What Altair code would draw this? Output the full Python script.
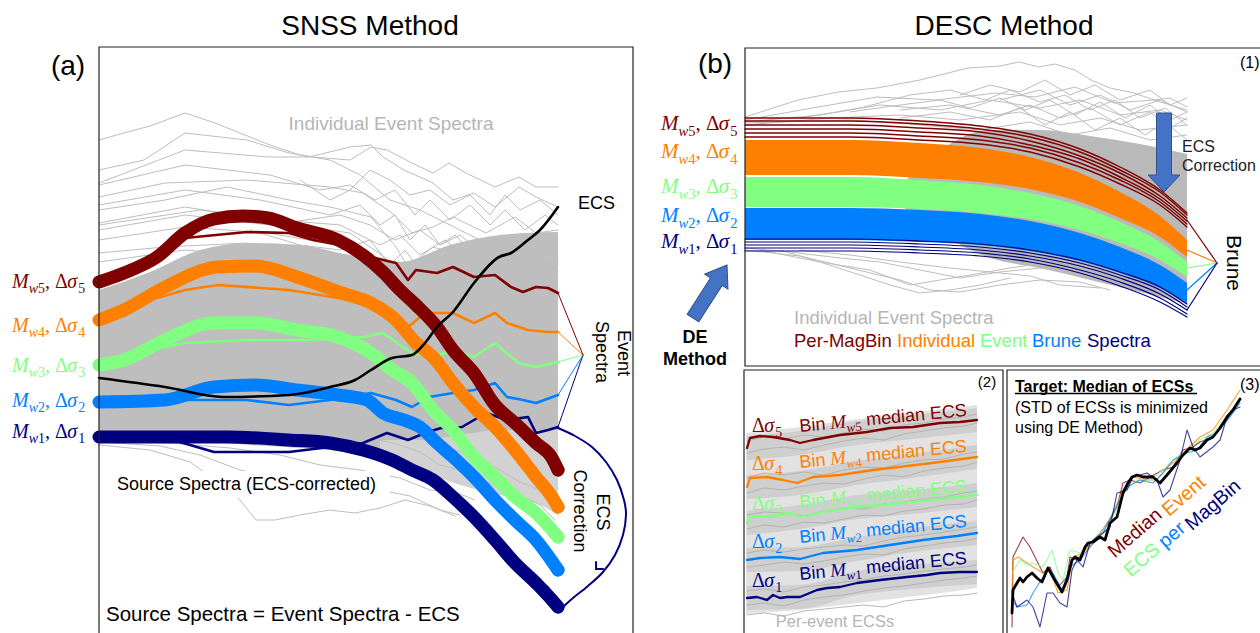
import math
import altair as alt
import pandas as pd

# ---------------------------------------------------------------------------
# Colours (magnitude bins 1..5) and fonts
# ---------------------------------------------------------------------------
NAVY, BLUE, GREEN, ORANGE, MAROON = "#000080", "#0080ff", "#80ff80", "#ff8000", "#800000"
BIN_COLOR = {1: NAVY, 2: BLUE, 3: GREEN, 4: ORANGE, 5: MAROON}
GRAY = "#bdbdbd"
SANS, SERIF = "Liberation Sans", "Liberation Serif"

# Each panel has its own data domain, mapped onto its place on the page.
PANELS = {
    "a": dict(xd=[0, 534], xr=[99, 633], yd=[0, 586], yr=[633, 47]),
    "b": dict(xd=[0, 515], xr=[745, 1260], yd=[0, 318], yr=[366, 48]),
    "c": dict(xd=[0, 259], xr=[744, 1003], yd=[0, 263], yr=[633, 370]),
    "d": dict(xd=[0, 253], xr=[1007, 1260], yd=[0, 263], yr=[633, 370]),
}

# ---------------------------------------------------------------------------
# (a) SNSS: event spectra, ECS and ECS-corrected source spectra
# ---------------------------------------------------------------------------
A_SOURCE = {
    5: ([0, 25, 58, 86, 115, 144, 169, 198, 239, 264, 284, 301, 317, 338, 354, 375, 396, 416, 437, 453, 459],
        [351, 360, 376, 400, 414, 417, 415, 405, 393, 378, 361, 343, 328, 306, 283, 260, 228, 210, 190, 175, 163]),
    4: ([0, 25, 66, 119, 157, 198, 243, 272, 297, 317, 334, 354, 375, 396, 416, 437, 453, 459],
        [313, 323, 346, 366, 367, 356, 340, 330, 313, 290, 276, 250, 226, 206, 183, 156, 136, 126]),
    3: ([0, 25, 66, 115, 157, 198, 239, 272, 293, 313, 334, 354, 375, 396, 416, 437, 459],
        [268, 273, 293, 310, 310, 303, 296, 280, 263, 250, 223, 203, 176, 156, 136, 120, 96]),
    2: ([0, 66, 115, 157, 198, 239, 268, 284, 305, 321, 338, 354, 375, 396, 416, 437, 459],
        [231, 233, 246, 248, 243, 238, 233, 220, 213, 206, 190, 176, 156, 133, 113, 93, 63]),
    1: ([0, 66, 128, 190, 231, 264, 293, 313, 334, 354, 375, 396, 416, 437, 453, 459],
        [196, 196, 196, 193, 190, 183, 173, 163, 153, 136, 116, 93, 70, 50, 33, 26]),
}
A_EVENT = {
    5: ([0, 51, 86, 148, 190, 214, 251, 272, 297, 309, 317, 338, 354, 375, 396, 412, 424, 437, 449, 459],
        [351, 371, 395, 401, 400, 393, 386, 376, 370, 353, 363, 360, 366, 356, 358, 346, 341, 346, 345, 340]),
    4: ([0, 51, 86, 119, 190, 251, 272, 293, 309, 326, 354, 375, 396, 408, 429, 449, 459],
        [313, 333, 343, 348, 343, 333, 333, 320, 306, 320, 320, 310, 320, 310, 303, 301, 301]),
    3: ([0, 51, 86, 148, 210, 264, 284, 313, 334, 354, 375, 396, 412, 420, 437, 459],
        [268, 283, 290, 293, 293, 296, 300, 280, 276, 283, 276, 290, 276, 270, 266, 271]),
    2: ([0, 86, 148, 190, 231, 272, 297, 313, 330, 354, 375, 396, 408, 424, 437, 459],
        [231, 233, 233, 228, 233, 240, 233, 226, 236, 240, 243, 250, 236, 233, 230, 238]),
    1: ([0, 74, 115, 190, 231, 264, 288, 309, 326, 342, 363, 387, 408, 429, 437, 449, 459],
        [196, 193, 181, 181, 186, 190, 200, 193, 200, 205, 206, 220, 213, 216, 200, 203, 206]),
}
A_ECS = ([0, 66, 124, 190, 231, 256, 272, 293, 313, 326, 338, 354, 375, 400, 412, 429, 441, 459],
         [255, 246, 236, 238, 246, 253, 263, 275, 278, 290, 306, 321, 350, 376, 380, 393, 403, 426])
A_GRAY = [
    ([0, 25, 51, 86, 116, 146, 171, 201, 231, 261, 291, 321, 351, 381, 411, 441, 459],
     [493, 500, 507, 520, 510, 498, 488, 478, 473, 458, 433, 423, 408, 393, 378, 353, 343]),
    ([0, 45, 86, 148, 190, 214, 251, 272, 288, 313, 334, 350, 367, 396, 420, 437, 459],
     [463, 473, 500, 493, 480, 476, 473, 486, 483, 470, 460, 470, 460, 446, 456, 446, 446]),
    ([0, 86, 169, 210, 251, 272, 284, 305, 334, 354, 375, 396, 420, 437, 459],
     [450, 483, 476, 476, 486, 488, 476, 463, 450, 433, 440, 426, 446, 436, 426]),
    ([0, 66, 148, 231, 264, 293, 313, 334, 354, 387, 416, 437, 459],
     [436, 450, 453, 446, 440, 420, 400, 406, 416, 400, 416, 400, 403]),
    ([0, 66, 128, 190, 231, 272, 297, 309, 334, 354, 396, 416, 437, 459],
     [423, 433, 446, 433, 426, 416, 386, 366, 386, 380, 393, 383, 393, 386]),
    ([0, 86, 148, 210, 251, 280, 305, 334, 375, 416, 459],
     [410, 426, 416, 406, 400, 380, 360, 370, 370, 373, 370]),
    ([0, 86, 169, 251, 293, 313, 354, 396, 437, 459],
     [393, 406, 400, 386, 366, 350, 356, 350, 356, 350]),
    ([0, 66, 148, 231, 272, 313, 354, 396, 437, 459],
     [380, 386, 390, 380, 366, 340, 343, 333, 343, 338]),
    ([0, 86, 201, 281, 321, 341, 361, 381, 401, 421, 441, 459],
     [371, 383, 373, 353, 333, 343, 333, 348, 338, 363, 353, 368]),
    ([0, 86, 171, 241, 271, 296, 321, 341, 361, 391, 421, 459],
     [403, 418, 408, 418, 408, 393, 403, 388, 398, 373, 393, 383]),
    ([0, 86, 161, 231, 261, 281, 296, 311, 326, 341, 356, 371, 386, 401, 416, 431, 446, 459],
     [428, 443, 433, 418, 428, 408, 418, 393, 408, 388, 398, 383, 395, 378, 393, 375, 388, 378]),
    ([0, 86, 171, 221, 251, 276, 296, 316, 331, 351, 371, 391, 406, 426, 446, 459],
     [448, 468, 458, 443, 448, 433, 443, 418, 433, 413, 428, 408, 423, 403, 418, 408]),
    ([201, 231, 251, 271, 291, 311, 331, 351, 371, 391, 406, 421, 441, 459],
     [453, 433, 443, 463, 453, 438, 443, 428, 438, 418, 438, 423, 433, 418]),
    ([151, 201, 241, 271, 291, 306, 321, 341, 361, 381, 401, 421, 441, 459],
     [403, 388, 383, 393, 368, 383, 363, 378, 358, 375, 361, 378, 365, 373]),
    ([0, 101, 181, 241, 281, 301, 321, 346, 371, 396, 421, 446, 459],
     [408, 423, 413, 408, 388, 398, 378, 393, 373, 388, 368, 385, 375]),
    # source-side (ECS-corrected) grey spectra
    ([0, 51, 91, 116, 141, 157, 176, 201, 231, 256, 281, 306, 331, 356],
     [188, 183, 171, 153, 133, 113, 113, 118, 123, 120, 125, 133, 127, 117]),
    ([0, 61, 101, 141, 181, 221, 251, 281, 311, 341, 361],
     [191, 187, 178, 163, 155, 148, 141, 143, 137, 123, 118]),
    ([0, 71, 131, 181, 221, 261, 301, 331, 356, 376],
     [193, 190, 185, 178, 168, 163, 155, 143, 141, 133]),
    ([281, 301, 321, 341, 361, 381, 401, 421, 441, 456],
     [193, 188, 181, 168, 163, 155, 145, 138, 128, 113]),
    ([301, 331, 356, 381, 401, 421, 441, 456],
     [203, 193, 183, 173, 163, 151, 143, 133]),
]
A_DENSE_X = [0, 51, 101, 151, 201, 251, 301, 351, 401, 459]
A_DENSE_TOP = [343, 361, 383, 390, 388, 378, 371, 388, 398, 401]
A_DENSE_BOT = [193, 193, 192, 188, 185, 181, 173, 168, 163, 163]
A_LOW_X = [281, 321, 361, 401, 441, 459]
A_LOW_TOP = [193, 193, 198, 203, 203, 203]
A_LOW_BOT = [178, 163, 148, 138, 128, 118]
A_APEX = (484, 278)
A_ARC = ([459, 476, 493, 507, 518, 525, 527, 524, 516, 504, 489, 474, 463],
         [205, 197, 186, 171, 153, 133, 118, 98, 78, 61, 47, 35, 25])
A_LABEL_Y = {5: 345, 4: 301, 3: 261, 2: 226, 1: 195}

# ---------------------------------------------------------------------------
# (b) DESC panel (1): Brune spectra per bin over the event spectra
# ---------------------------------------------------------------------------
B_X = [0, 105, 175, 235, 285, 335, 375, 415, 442]
B_MAROON = [
    [248, 248, 245, 240, 232, 217, 199, 176, 153],
    [245, 245, 242, 237, 229, 214, 196, 174, 151],
    [241, 241, 238, 234, 225, 210, 193, 170, 148],
    [237, 237, 234, 230, 221, 207, 189, 167, 145],
    [233, 233, 230, 226, 218, 203, 186, 164, 142],
    [229, 229, 226, 222, 214, 199, 182, 161, 139],
]
B_ORANGE = ([226, 226, 223, 218, 209, 193, 174, 150, 126], [191, 191, 188, 184, 177, 164, 148, 129, 109])
B_GREEN = ([189, 189, 186, 181, 173, 160, 144, 124, 104], [159, 159, 157, 153, 147, 136, 123, 106, 89])
B_BLUE = ([158, 158, 156, 152, 145, 133, 119, 101, 83], [126, 126, 124, 121, 115, 105, 93, 78, 63])
B_NAVY = [
    [127, 127, 125, 122, 116, 106, 94, 79, 62],
    [124, 124, 122, 119, 113, 103, 91, 76, 59],
    [121, 121, 119, 116, 110, 100, 88, 72, 56],
    [118, 118, 116, 113, 107, 96, 84, 68, 52],
    [115, 115, 113, 110, 104, 93, 80, 64, 49],
]
B_GRAY = [
    ([0, 53, 93, 132, 175, 223, 255, 274, 294, 310, 330, 346, 365, 389, 409, 425, 442],
     [249, 266, 274, 278, 286, 298, 300, 304, 299, 302, 296, 286, 278, 273, 266, 268, 259]),
    ([0, 73, 132, 191, 251, 290, 330, 369, 409, 442],
     [246, 259, 269, 266, 273, 269, 279, 263, 266, 256]),
    ([0, 75, 135, 195, 245, 295, 335, 375, 415, 442],
     [244, 251, 261, 256, 266, 258, 266, 251, 256, 246]),
    ([0, 85, 155, 215, 275, 315, 355, 395, 442],
     [241, 248, 251, 246, 254, 241, 248, 236, 241]),
    ([0, 105, 175, 235, 285, 325, 365, 405, 442],
     [243, 246, 241, 236, 244, 231, 238, 226, 231]),
    ([155, 205, 255, 285, 315, 345, 375, 405, 425, 442],
     [256, 261, 251, 261, 248, 258, 241, 254, 238, 248]),
    ([255, 295, 325, 355, 385, 415, 442],
     [266, 276, 261, 271, 256, 266, 254]),
    ([105, 155, 195, 225, 255, 280, 305, 330, 355, 380, 405, 425, 442],
     [254, 261, 266, 258, 268, 256, 266, 251, 264, 248, 261, 246, 254]),
    ([155, 205, 245, 275, 300, 325, 350, 375, 400, 420, 442],
     [248, 254, 246, 258, 241, 254, 236, 248, 231, 244, 226]),
    ([215, 245, 275, 300, 325, 350, 375, 405, 425, 442],
     [271, 281, 274, 286, 271, 281, 266, 276, 261, 268]),
    ([55, 115, 165, 205, 240, 265, 295, 320, 345, 370, 395, 420, 442],
     [248, 258, 271, 276, 266, 276, 264, 271, 256, 266, 248, 258, 241]),
    # below the Mw1 bundle
    ([0, 55, 105, 155, 185, 215, 255, 295, 335, 365],
     [116, 110, 98, 86, 76, 74, 81, 86, 84, 76]),
    ([0, 45, 95, 135, 175, 215, 255, 295, 335, 375],
     [118, 114, 108, 104, 96, 88, 94, 98, 94, 86]),
    ([35, 75, 115, 145, 175, 205, 235, 265],
     [116, 104, 91, 81, 73, 76, 81, 88]),
    ([55, 105, 155, 205, 245, 285, 315, 355],
     [116, 111, 104, 98, 94, 90, 81, 78]),
    ([15, 75, 125, 165, 195, 225, 265, 305],
     [116, 104, 96, 81, 86, 91, 98, 104]),
]
B_DENSE_X = [150, 245, 295, 345, 395, 442]
B_DENSE_TOP = [175, 236, 236, 230, 222, 212]
B_DENSE_BOT = [165, 108, 98, 86, 74, 62]
B_ENDS = {5: 146, 4: 116, 3: 98, 2: 76, 1: 56}
B_APEX = (472, 103)
B_LABEL_Y = {5: 236, 4: 208, 3: 173, 2: 144, 1: 118}

# ---------------------------------------------------------------------------
# (b) panel (2): per-event ECSs and per-bin median ECS
# ---------------------------------------------------------------------------
C_MEDIAN = {
    5: ([3, 6, 16, 29, 46, 56, 69, 96, 123, 146, 169, 196, 216, 233],
        [185, 195, 197, 196, 193, 190, 193, 198, 201, 205, 206, 210, 211, 213]),
    4: ([3, 6, 23, 39, 53, 69, 96, 129, 163, 196, 233],
        [146, 155, 156, 153, 150, 156, 158, 163, 167, 171, 176]),
    3: ([3, 6, 29, 46, 56, 79, 106, 136, 169, 203, 233],
        [110, 116, 117, 120, 116, 121, 125, 128, 131, 135, 138]),
    2: ([3, 16, 36, 56, 79, 113, 146, 179, 213, 233],
        [73, 75, 76, 74, 80, 83, 88, 93, 97, 100]),
    1: ([3, 13, 23, 29, 36, 43, 56, 73, 83, 96, 113, 136, 163, 183, 196, 216, 233],
        [35, 36, 33, 38, 35, 36, 36, 43, 45, 46, 50, 53, 56, 58, 60, 61, 61]),
}
C_GX = [3, 20, 40, 60, 80, 100, 120, 140, 160, 180, 200, 220, 233]
C_GRAY = [
    [180, 184, 186, 183, 188, 192, 195, 193, 199, 202, 205, 207, 210],
    [192, 196, 194, 198, 196, 200, 204, 202, 208, 210, 214, 216, 219],
    [140, 145, 143, 147, 150, 149, 154, 158, 156, 162, 165, 167, 171],
    [155, 160, 158, 161, 158, 163, 166, 165, 170, 173, 174, 179, 181],
    [104, 108, 106, 111, 110, 114, 118, 117, 122, 124, 128, 129, 133],
    [118, 121, 120, 117, 122, 125, 124, 129, 131, 134, 136, 140, 142],
    [66, 68, 71, 69, 72, 76, 79, 78, 84, 87, 90, 92, 95],
    [80, 83, 81, 84, 86, 88, 87, 92, 96, 98, 101, 104, 106],
    [28, 30, 27, 33, 36, 38, 42, 45, 47, 50, 53, 55, 57],
    [42, 44, 41, 46, 48, 51, 53, 57, 59, 62, 64, 66, 68],
    [18, 20, 17, 22, 24, 26, 28, 26, 32, 34, 37, 38, 40],
]
C_BASE_X = [2, 56, 106, 156, 206, 233]
C_BASE_TOP = [200, 206, 213, 219, 225, 228]
C_BASE_BOT = [19, 23, 29, 35, 41, 45]
C_BAND_X = [3, 56, 113, 169, 233]
C_BANDS = {
    5: ([197, 202, 212, 218, 225], [173, 178, 188, 194, 201]),
    4: ([158, 162, 172, 179, 188], [134, 138, 148, 155, 164]),
    3: ([122, 128, 138, 143, 150], [98, 104, 114, 119, 126]),
    2: ([85, 86, 96, 105, 112], [61, 62, 72, 81, 88]),
    1: ([47, 48, 62, 68, 73], [23, 24, 38, 44, 49]),
}
C_DS_Y = {5: 201, 4: 163, 3: 123, 2: 85, 1: 46}
C_BIN_Y = {5: 201, 4: 165, 3: 125, 2: 90, 1: 53}

# ---------------------------------------------------------------------------
# (b) panel (3): median ECS per magnitude bin and their median
# ---------------------------------------------------------------------------
D_BIN = {
    5: ([5, 6, 11, 16, 23, 26, 36, 43, 51, 60, 63, 70, 80, 93, 103, 110, 116, 123, 133, 143, 156, 166, 176, 186, 193, 206, 220, 226, 230],
        [6, 76, 86, 96, 86, 80, 60, 66, 46, 56, 76, 73, 86, 100, 113, 126, 150, 153, 150, 156, 163, 166, 183, 186, 191, 196, 213, 223, 230]),
    4: ([5, 6, 11, 20, 26, 36, 43, 51, 60, 66, 76, 86, 96, 106, 116, 126, 140, 150, 160, 170, 176, 193, 206, 220, 233],
        [40, 73, 76, 70, 66, 60, 63, 40, 43, 76, 80, 90, 103, 120, 143, 156, 153, 153, 166, 173, 180, 196, 203, 223, 243]),
    3: ([5, 13, 20, 26, 36, 45, 51, 56, 63, 73, 83, 93, 106, 116, 130, 143, 156, 170, 180, 193, 206, 220, 233],
        [60, 73, 68, 70, 66, 83, 60, 53, 83, 80, 90, 100, 116, 140, 153, 153, 163, 176, 183, 193, 200, 216, 233]),
    2: ([5, 10, 20, 26, 36, 41, 46, 55, 63, 73, 83, 96, 106, 120, 133, 146, 156, 166, 180, 190, 200, 210, 223, 233],
        [33, 26, 28, 40, 56, 66, 60, 43, 66, 73, 86, 100, 120, 146, 153, 150, 160, 173, 180, 183, 196, 200, 216, 230]),
    1: ([5, 10, 20, 26, 33, 40, 46, 53, 60, 65, 70, 76, 83, 90, 96, 103, 110, 120, 126, 140, 150, 156, 163, 173, 180, 186, 193, 206, 213, 220, 226, 233],
        [40, 26, 33, 26, 6, 40, 40, 30, 26, 63, 73, 66, 90, 96, 100, 106, 140, 143, 156, 160, 153, 136, 143, 173, 203, 186, 176, 186, 193, 216, 223, 226]),
}
D_MEDIAN = ([5, 6, 10, 13, 16, 20, 25, 30, 35, 41, 46, 55, 60, 65, 68, 73, 78, 81, 86, 93, 98, 103, 110, 116, 121, 125, 130, 136, 146, 153, 160, 170, 176, 183, 188, 193, 200, 206, 213, 220, 226, 233],
            [20, 43, 50, 55, 51, 56, 60, 55, 51, 65, 56, 41, 53, 73, 76, 73, 86, 90, 91, 96, 93, 110, 116, 140, 150, 156, 158, 156, 156, 150, 158, 170, 178, 185, 183, 185, 193, 196, 205, 216, 223, 234])

# ---------------------------------------------------------------------------
# helpers
# ---------------------------------------------------------------------------
def enc(panel, x="x", y="y", x2=None, y2=None):
    p = PANELS[panel]
    e = {
        "x": alt.X(f"{x}:Q", scale=alt.Scale(domain=p["xd"], range=p["xr"], nice=False, zero=False), axis=None),
        "y": alt.Y(f"{y}:Q", scale=alt.Scale(domain=p["yd"], range=p["yr"], nice=False, zero=False), axis=None),
    }
    if x2:
        e["x2"] = alt.X2(f"{x2}:Q")
    if y2:
        e["y2"] = alt.Y2(f"{y2}:Q")
    return e


def lines(panel, series, color, width, opacity=1.0, interp="linear", cap="round"):
    recs = []
    for sid, (xs, ys) in enumerate(series):
        for i, (x, y) in enumerate(zip(xs, ys)):
            recs.append({"id": sid, "i": i, "x": x, "y": y})
    return alt.Chart(pd.DataFrame(recs)).mark_line(
        color=color, strokeWidth=width, opacity=opacity, interpolate=interp,
        strokeCap=cap, strokeJoin="round",
    ).encode(detail="id:N", order="i:Q", **enc(panel))


def band(panel, xs, hi, lo, color, opacity=1.0, interp="monotone"):
    df = pd.DataFrame({"x": xs, "hi": hi, "lo": lo})
    return alt.Chart(df).mark_area(color=color, opacity=opacity, interpolate=interp).encode(
        **enc(panel, y="hi", y2="lo"))


def frame(panel, x0, x1, y0, y1):
    df = pd.DataFrame({"x": [x0], "x2": [x1], "y": [y1], "y2": [y0]})
    return alt.Chart(df).mark_rect(fillOpacity=0, stroke="#222222", strokeWidth=1.2).encode(
        **enc(panel, x2="x2", y2="y2"))


def white_box(panel, x0, x1, y0, y1):
    df = pd.DataFrame({"x": [x0], "x2": [x1], "y": [y1], "y2": [y0]})
    return alt.Chart(df).mark_rect(color="white").encode(**enc(panel, x2="x2", y2="y2"))


def symbol(panel, xs, ys, shape, size, angle=0, fill="none", stroke="#000", sw=1.0, filled=False):
    df = pd.DataFrame({"x": xs, "y": ys})
    props = dict(shape=shape, size=size, angle=angle, filled=filled, stroke=stroke,
                 strokeWidth=sw, opacity=1)
    if filled:
        props["fill"] = fill
    return alt.Chart(df).mark_point(**props).encode(**enc(panel))


ARROW_ECS = "M -0.19 1 L 0.19 1 L 0.19 -0.57 L 0.405 -0.57 L 0 -1 L -0.405 -0.57 L -0.19 -0.57 Z"
ARROW_DE = "M -0.22 1 L 0.22 1 L 0.22 -0.37 L 0.44 -0.37 L 0 -1 L -0.44 -0.37 L -0.22 -0.37 Z"
CHEVRON = "M -1 -0.5 L 0 0.5 L 1 -0.5"

# text pieces ---------------------------------------------------------------
rows = []


def T(panel, x, y, t, c="#000000", s=16, a=0, font=SANS, style="normal", weight="normal",
      align="center", baseline="middle"):
    rows.append(dict(panel=panel, x=x, y=y, t=t, c=c, s=s, a=a, font=font, style=style,
                     weight=weight, align=align, baseline=baseline))


EM_SERIF = {"M": 0.833, "w": 0.667, "Δ": 0.612, "σ": 0.55, ",": 0.25, " ": 0.25}
EM_SANS = {"B": 0.667, "i": 0.222, "n": 0.556, " ": 0.278, "m": 0.833, "e": 0.556, "d": 0.556,
           "a": 0.556, "E": 0.667, "C": 0.722, "S": 0.667}


def advance(text, size, kind):
    table = EM_SANS if kind == "sans" else EM_SERIF
    return sum(table.get(ch, 0.5 if ch.isdigit() else 0.55) for ch in text) * size


def run(panel, x, y, parts, color, rot=0.0):
    """Lay out a run of mixed-size pieces (subscripts) along a baseline."""
    ang = math.radians(rot)
    ca, sa = math.cos(ang), math.sin(ang)
    d = 0.0
    for text, kind, size, drop in parts:
        body = text.strip()
        lead = len(text) - len(text.lstrip())
        trail = len(text) - len(text.rstrip())
        d += advance(" " * lead, size, kind)
        px = x + d * ca + drop * sa
        py = y + d * sa - drop * ca
        T(panel, px, py, body, color, size, (360 - rot) % 360,
          SANS if kind == "sans" else SERIF, "italic" if kind == "it" else "normal",
          align="left", baseline="alphabetic")
        d += advance(body, size, kind) + advance(" " * trail, size, kind)


def mw_parts(k, big, small):
    drop = 0.27 * big
    return [("M", "it", big, 0), ("w", "it", small, drop), (str(k), "up", small, drop),
            (", ", "up", big, 0), ("Δ", "up", big, 0), ("σ", "it", big, 0), (str(k), "up", small, drop)]


# ---------------------------------------------------------------------------
# build layers
# ---------------------------------------------------------------------------
layers = []

# ---- (a) ----
layers.append(band("a", A_DENSE_X, A_DENSE_TOP, A_DENSE_BOT, "#bebebe"))
layers.append(band("a", A_LOW_X, A_LOW_TOP, A_LOW_BOT, "#d2d2d2"))
layers.append(lines("a", A_GRAY, GRAY, 1.0))
layers.append(white_box("a", 13, 291, 135, 162))
for k in [1, 2, 3, 4, 5]:
    layers.append(lines("a", [A_EVENT[k]], BIN_COLOR[k], 2.6))
    ex, ey = A_EVENT[k][0][-1], A_EVENT[k][1][-1]
    layers.append(lines("a", [([ex, A_APEX[0]], [ey, A_APEX[1]])], BIN_COLOR[k], 1.0))
for k in [1, 2, 3, 4, 5]:
    layers.append(lines("a", [A_SOURCE[k]], BIN_COLOR[k], 13, interp="monotone"))
    layers.append(symbol("a", [A_SOURCE[k][0][-1]], [A_SOURCE[k][1][-1]], "circle", 110,
                         stroke=BIN_COLOR[k], sw=2.5))
layers.append(symbol("a", [437, 445, 453], [50, 42, 33], "circle", 110, stroke=NAVY, sw=2.5))
layers.append(lines("a", [A_ECS], "#000000", 2.6, interp="monotone"))
layers.append(lines("a", [A_ARC], NAVY, 2.0, interp="cardinal"))
layers.append(symbol("a", [499], [66], CHEVRON, 120, angle=45, stroke=NAVY, sw=2.0))
layers.append(frame("a", 0, 534, -10, 586))

T("a", 271, 606, "SNSS Method", s=28)
T("a", -31, 566, "(a)", s=28)
T("a", 292, 509, "Individual Event Spectra", c="#b5b5b5", s=19)
T("a", 479, 429, "ECS", s=18, align="left")
T("a", 524, 280, "Event", s=18, a=90)
T("a", 502, 281, "Spectra", s=18, a=90)
T("a", 503, 121, "ECS", s=18, a=90)
T("a", 480, 122, "Correction", s=18, a=90)
T("a", 18, 148, "Source Spectra (ECS-corrected)", s=18, align="left")
T("a", 7, 18, "Source Spectra = Event Spectra - ECS", s=20.5, align="left")
for k, yb in A_LABEL_Y.items():
    run("a", -87, yb, mw_parts(k, 20, 14), BIN_COLOR[k])

# ---- (b) panel (1) ----
layers.append(band("b", B_DENSE_X, B_DENSE_TOP, B_DENSE_BOT, "#b9b9b9"))
layers.append(lines("b", B_GRAY, GRAY, 1.0))
layers.append(band("b", B_X, B_ORANGE[0], B_ORANGE[1], ORANGE))
layers.append(band("b", B_X, B_GREEN[0], B_GREEN[1], GREEN))
layers.append(band("b", B_X, B_BLUE[0], B_BLUE[1], BLUE))
layers.append(lines("b", [(B_X, ys) for ys in B_MAROON], MAROON, 1.4, interp="monotone"))
layers.append(lines("b", [(B_X, ys) for ys in B_NAVY], NAVY, 1.2, interp="monotone"))
for k, ey in B_ENDS.items():
    layers.append(lines("b", [([442, B_APEX[0]], [ey, B_APEX[1]])], BIN_COLOR[k], 1.2))
layers.append(symbol("b", [419], [213.5], ARROW_ECS, 79 ** 2, angle=180, fill="#4472c4",
                     stroke="#2f528f", sw=1.0, filled=True))
layers.append(symbol("b", [-35], [74.5], ARROW_DE, 63 ** 2, angle=32.7, fill="#4472c4",
                     stroke="#2f528f", sw=1.0, filled=True))
layers.append(frame("b", 0, 530, 0, 318))

T("b", 259, 339, "DESC Method", s=28)
T("b", -30, 301, "(b)", s=28)
T("b", 495, 303, "(1)", s=16, align="left")
T("b", 437, 219, "ECS", c="#222222", s=16, align="left")
T("b", 437, 200, "Correction", c="#222222", s=16, align="left")
T("b", 488, 103, "Brune", s=21, a=90)
T("b", -50, 28, "DE", s=18, weight="bold")
T("b", -50, 6, "Method", s=18, weight="bold")
T("b", 49, 48, "Individual Event Spectra", c="#b5b5b5", s=18.5, align="left")
for word, xw, col in [("Per-MagBin", 49, MAROON), ("Individual", 152, ORANGE), ("Event", 235, GREEN),
                      ("Brune", 287, BLUE), ("Spectra", 342, NAVY)]:
    T("b", xw, 25, word, c=col, s=18.5, align="left")
for k, yb in B_LABEL_Y.items():
    run("b", -84, yb, mw_parts(k, 21, 14.5), BIN_COLOR[k])

# ---- (b) panel (2) ----
layers.append(band("c", C_BASE_X, C_BASE_TOP, C_BASE_BOT, "#e2e2e2", interp="linear"))
for k, (hi, lo) in C_BANDS.items():
    layers.append(band("c", C_BAND_X, hi, lo, "#cfcfcf"))
layers.append(lines("c", [(C_GX, ys) for ys in C_GRAY], "#b0b0b0", 0.9))
for k in [1, 2, 3, 4, 5]:
    layers.append(lines("c", [C_MEDIAN[k]], BIN_COLOR[k], 2.3))
layers.append(frame("c", 0, 259, -10, 263))
T("c", 243, 251, "(2)", s=15)
T("c", 91, 11, "Per-event ECSs", c="#b5b5b5", s=16.5)
for k in [1, 2, 3, 4, 5]:
    run("c", 8, C_DS_Y[k], [("Δ", "up", 20, 0), ("σ", "it", 20, 0), (str(k), "up", 14, 5)], BIN_COLOR[k])
    run("c", 56, C_BIN_Y[k],
        [("Bin ", "sans", 18, 0), ("M", "it", 19, 0), ("w", "it", 13, 4.5), (str(k), "up", 13, 4.5),
         (" median ECS", "sans", 18, 0)], BIN_COLOR[k], rot=5.5)

# ---- (b) panel (3) ----
for k in [5, 4, 3, 2, 1]:
    layers.append(lines("d", [D_BIN[k]], BIN_COLOR[k], 1.1, opacity=0.75))
layers.append(lines("d", [D_MEDIAN], "#000000", 2.8))
layers.append(lines("d", [([8, 190], [239.5, 239.5])], "#000000", 1.3, cap="butt"))
layers.append(frame("d", 0, 270, -10, 263))
T("d", 8, 246, "Target: Median of ECSs", s=16, weight="bold", align="left")
T("d", 8, 225, "(STD of ECSs is minimized", s=16, align="left")
T("d", 8, 205, "using DE Method)", s=16, align="left")
T("d", 233, 248, "(3)", s=16, align="left")
for word, xw, yw, col in [("Median", 128, 100, MAROON), ("Event", 177, 137, ORANGE),
                          ("ECS", 135, 73, GREEN), ("per", 165, 98, BLUE), ("MagBin", 206, 128, NAVY)]:
    T("d", xw, yw, word, c=col, s=19.5, a=319)

# ---- all text pieces, grouped by style ----
tdf = pd.DataFrame(rows)
for key, g in tdf.groupby(["panel", "font", "style", "weight", "align", "baseline"]):
    panel, font, style, weight, align, baseline = key
    layers.append(
        alt.Chart(g.reset_index(drop=True)).mark_text(
            font=font, fontStyle=style, fontWeight=weight, align=align, baseline=baseline,
        ).encode(
            text="t:N",
            color=alt.Color("c:N", scale=None),
            size=alt.Size("s:Q", scale=None),
            angle=alt.Angle("a:Q", scale=None),
            **enc(panel),
        )
    )

chart = (
    alt.layer(*layers)
    .resolve_scale(x="independent", y="independent")
    .properties(width=1260, height=633, padding=0, background="white",
                autosize=alt.AutoSizeParams(type="none"))
    .configure_view(stroke=None)
)

chart.save("out.html", embed_options={"renderer": "svg", "actions": False})
